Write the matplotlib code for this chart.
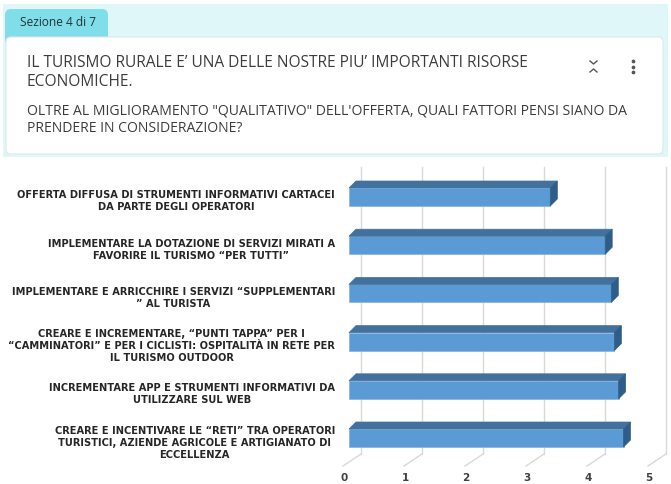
import matplotlib
matplotlib.use("Agg")
import matplotlib.pyplot as plt
from matplotlib.patches import Rectangle, FancyBboxPatch, Polygon

# data (top to bottom, as in the picture)
categories = [
    "OFFERTA DIFFUSA DI STRUMENTI INFORMATIVI CARTACEI\nDA PARTE DEGLI OPERATORI",
    "IMPLEMENTARE LA DOTAZIONE DI SERVIZI MIRATI A\nFAVORIRE IL TURISMO “PER TUTTI”",
    "IMPLEMENTARE E ARRICCHIRE I SERVIZI “SUPPLEMENTARI\n” AL TURISTA",
    "CREARE E INCREMENTARE, “PUNTI TAPPA” PER I\n“CAMMINATORI” E PER I CICLISTI: OSPITALITÀ IN RETE PER\nIL TURISMO OUTDOOR",
    "INCREMENTARE APP E STRUMENTI INFORMATIVI DA\nUTILIZZARE SUL WEB",
    "CREARE E INCENTIVARE LE “RETI” TRA OPERATORI\nTURISTICI, AZIENDE AGRICOLE E ARTIGIANATO DI\nECCELLENZA",
]
values = [3.3, 4.2, 4.3, 4.35, 4.42, 4.5]
x_ticks = [0, 1, 2, 3, 4, 5]

section_label = "Sezione 4 di 7"
question_1 = ["IL TURISMO RURALE E’ UNA DELLE NOSTRE PIU’ IMPORTANTI RISORSE", "ECONOMICHE."]
question_2 = ["OLTRE AL MIGLIORAMENTO \"QUALITATIVO\" DELL'OFFERTA, QUALI FATTORI PENSI SIANO DA",
              "PRENDERE IN CONSIDERAZIONE?"]

W, H = 671, 485
fig = plt.figure(figsize=(W / 100, H / 100), dpi=100)
fig.patch.set_facecolor("white")

# ---- header (pixel coords) ----
bg = fig.add_axes([0, 0, 1, 1])
bg.set_xlim(0, W)
bg.set_ylim(H, 0)
bg.axis("off")

bg.add_patch(Rectangle((3, 5), 665, 153, facecolor="#e0f7fa", edgecolor="none"))
bg.add_patch(FancyBboxPatch((5, 10), 103, 36, boxstyle="round,pad=0,rounding_size=6",
                            facecolor="#80deea", edgecolor="none"))
bg.add_patch(FancyBboxPatch((6, 38), 657, 117, boxstyle="round,pad=0,rounding_size=5",
                            facecolor="white", edgecolor="#dde8ea", linewidth=0.8))
bg.text(20, 23, section_label, fontsize=8.6, color="#263238", va="center", ha="left",
        family="Open Sans")

hdr_font = dict(family="Open Sans", color="#3c3c3c", va="center", ha="left")
bg.text(27, 63, question_1[0], fontsize=11.2, **hdr_font)
bg.text(27, 82, question_1[1], fontsize=11.2, **hdr_font)
bg.text(27, 111, question_2[0], fontsize=10.1, **hdr_font)
bg.text(27, 129, question_2[1], fontsize=10.1, **hdr_font)

# collapse icon and kebab menu
bg.plot([590, 593.5, 597], [62, 65, 62], color="#555555", lw=1.0)
bg.plot([590, 593.5, 597], [73, 70, 73], color="#555555", lw=1.0)
for yy in (62, 67.5, 73):
    bg.plot(633, yy, "o", color="#555555", ms=1.7)

# ---- 3D-looking bar chart ----
px_x, px_y = 61.0, 48.2          # pixels per data unit
ax_left, ax_top, ax_w, ax_h = 340, 165, 331, 320
x0_px, y0_px = 349, 198          # where x=0 and first category sit
ax = fig.add_axes([ax_left / W, (H - ax_top - ax_h) / H, ax_w / W, ax_h / H])
ax.set_xlim((ax_left - x0_px) / px_x, (ax_left + ax_w - x0_px) / px_x)
ax.set_ylim((ax_top + ax_h - y0_px) / px_y, (ax_top - y0_px) / px_y)
ax.axis("off")

bar_h = 18 / px_y
dx, dy = 7 / px_x, 7 / px_y          # bar depth
wall_dx = 12 / px_x                  # back wall offset
wall_top = (168 - y0_px) / px_y
wall_bot = (455 - y0_px) / px_y
floor_front = (467 - y0_px) / px_y
floor_dx = -6 / px_x

for k in x_ticks:
    ax.plot([k + wall_dx, k + wall_dx], [wall_top, wall_bot], color="#d9d9d9", lw=1.0, zorder=1)
    ax.plot([k + wall_dx, k + floor_dx], [wall_bot, floor_front], color="#d9d9d9", lw=1.0, zorder=1)
    ax.text(k + floor_dx + 0.02, (478 - y0_px) / px_y, str(k), ha="center", va="center",
            fontsize=7.5, fontweight="bold", color="#404040", family="DejaVu Sans")

ypos = list(range(len(values)))
ax.barh(ypos, values, height=bar_h, left=0, color="#5b9bd5", edgecolor="#8db6e3",
        linewidth=0.6, zorder=3)
for y, v in zip(ypos, values):
    top = y - bar_h / 2
    bot = y + bar_h / 2
    ax.add_patch(Polygon([(0, top), (v, top), (v + dx, top - dy), (dx, top - dy)],
                         closed=True, facecolor="#41719c", edgecolor="#41719c", lw=0.5, zorder=3))
    ax.add_patch(Polygon([(v, top), (v + dx, top - dy), (v + dx, bot - dy), (v, bot)],
                         closed=True, facecolor="#2f5d8a", edgecolor="#2f5d8a", lw=0.5, zorder=3))

for y, lab in zip(ypos, categories):
    ax.text((335 - x0_px) / px_x, y + 3.5 / px_y, lab, ha="right", va="center",
            multialignment="center", fontsize=7.1, fontweight="bold", color="#262626",
            family="DejaVu Sans", linespacing=1.25, clip_on=False)

fig.savefig("out.png", dpi=100)
